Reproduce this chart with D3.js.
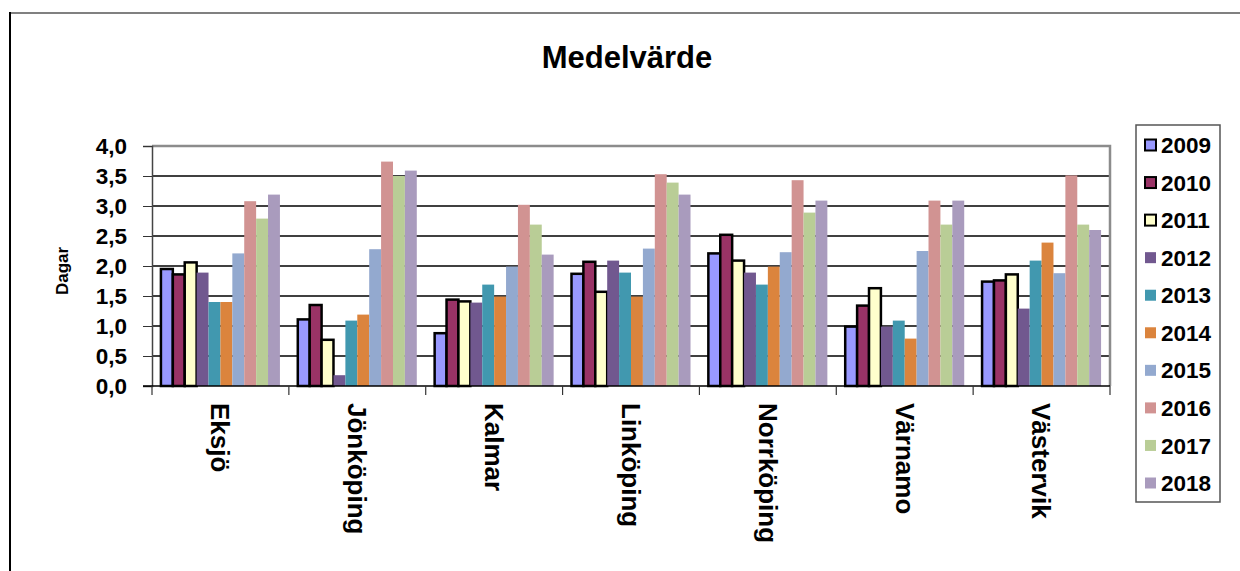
<!DOCTYPE html>
<html lang="sv">
<head>
    <meta charset="UTF-8">
    <script src="https://d3js.org/d3.v7.min.js"></script>
    <style>
        body {
            margin: 0;
            font-family: "Liberation Sans", Arial, sans-serif;
            background: #fff;
        }
        .tick-label {
            font-size: 22.5px;
            font-weight: bold;
            fill: #000;
        }
    </style>
</head>
<body>
    <svg id="chart"></svg>

    <script>
        const kommuner = ["Eksjö", "Jönköping", "Kalmar", "Linköping", "Norrköping", "Värnamo", "Västervik"];
        const years = ["2009", "2010", "2011", "2012", "2013", "2014", "2015", "2016", "2017", "2018"];
        const yTicks = [0, 0.5, 1, 1.5, 2, 2.5, 3, 3.5, 4];

        // medelvärde (dagar) per år, en rad per kommun
        const eksjo      = [1.95, 1.86, 2.06, 1.89, 1.40, 1.40, 2.21, 3.08, 2.79, 3.19];
        const jonkoping  = [1.11, 1.35, 0.77, 0.18, 1.09, 1.19, 2.28, 3.74, 3.50, 3.59];
        const kalmar     = [0.88, 1.44, 1.41, 1.39, 1.69, 1.49, 1.99, 3.02, 2.69, 2.19];
        const linkoping  = [1.87, 2.07, 1.57, 2.09, 1.89, 1.49, 2.29, 3.53, 3.39, 3.19];
        const norrkoping = [2.21, 2.52, 2.09, 1.89, 1.69, 1.99, 2.23, 3.43, 2.89, 3.09];
        const varnamo    = [0.99, 1.34, 1.63, 0.99, 1.09, 0.79, 2.25, 3.09, 2.69, 3.09];
        const vastervik  = [1.74, 1.76, 1.86, 1.29, 2.09, 2.39, 1.88, 3.51, 2.69, 2.60];

        const values = [eksjo, jonkoping, kalmar, linkoping, norrkoping, varnamo, vastervik];

        const colors = ["#9999FF", "#993366", "#FFFFCC", "#71588F", "#4198AF", "#DB843D",
                        "#93A9CF", "#D19392", "#B9CD96", "#A99BBD"];
        const outlined = ["2009", "2010", "2011"];

        const W = 1240, H = 571;
        const plot = {left: 152, right: 1110, top: 146, bottom: 386};

        const svg = d3.select("#chart")
            .attr("width", W)
            .attr("height", H);

        // outer frame (only top and left are inside the window)
        svg.append("line")
            .attr("x1", 9).attr("x2", W).attr("y1", 13).attr("y2", 13)
            .attr("stroke", "#808080").attr("stroke-width", 2);
        svg.append("line")
            .attr("x1", 10).attr("x2", 10).attr("y1", 12).attr("y2", H)
            .attr("stroke", "#000").attr("stroke-width", 2);

        svg.append("text")
            .attr("x", 627)
            .attr("y", 68)
            .attr("text-anchor", "middle")
            .style("font-size", "31px")
            .style("font-weight", "bold")
            .text("Medelvärde");

        const x0 = d3.scaleBand()
            .domain(kommuner)
            .range([plot.left, plot.right])
            .padding(0);

        const x1 = d3.scaleBand()
            .domain(years)
            .range([0, x0.bandwidth()])
            .paddingInner(0)
            .paddingOuter(0.75);

        const y = d3.scaleLinear()
            .domain([0, 4])
            .range([plot.bottom, plot.top]);

        // gridlines
        svg.append("g")
            .selectAll("line")
            .data(yTicks.filter(d => d > 0 && d < 4))
            .enter()
            .append("line")
            .attr("x1", plot.left).attr("x2", plot.right)
            .attr("y1", d => y(d)).attr("y2", d => y(d))
            .attr("stroke", "#000").attr("stroke-width", 1.3);

        // plot area top/right border
        svg.append("path")
            .attr("d", `M${plot.left},${plot.top}H${plot.right}V${plot.bottom}`)
            .attr("fill", "none")
            .attr("stroke", "#8c8c8c")
            .attr("stroke-width", 2.5);

        // bars
        const groups = svg.append("g")
            .selectAll("g")
            .data(kommuner)
            .enter()
            .append("g")
            .attr("transform", d => `translate(${x0(d)},0)`);

        groups.selectAll("rect")
            .data((k, i) => years.map((yr, j) => ({year: yr, value: values[i][j], color: colors[j]})))
            .enter()
            .append("rect")
            .attr("x", d => x1(d.year))
            .attr("y", d => y(d.value))
            .attr("width", x1.bandwidth())
            .attr("height", d => y(0) - y(d.value))
            .attr("fill", d => d.color)
            .attr("stroke", d => outlined.includes(d.year) ? "#000" : "none")
            .attr("stroke-width", 2.5);

        // y axis
        const yAxis = svg.append("g")
            .attr("transform", `translate(${plot.left},0)`)
            .call(d3.axisLeft(y).tickValues(yTicks).tickSize(9).tickPadding(16)
                .tickFormat(d => d3.format(".1f")(d).replace(".", ",")));
        yAxis.select(".domain").attr("stroke", "#444").attr("stroke-width", 1.5);
        yAxis.selectAll(".tick line").attr("stroke", "#333");
        yAxis.selectAll(".tick text").attr("class", "tick-label").attr("font-family", null).attr("font-size", null);

        // x axis
        const xAxis = svg.append("g")
            .attr("transform", `translate(0,${plot.bottom})`);
        xAxis.append("line")
            .attr("x1", plot.left - 9).attr("x2", plot.right)
            .attr("stroke", "#000").attr("stroke-width", 1.5);
        xAxis.selectAll(".sep")
            .data(kommuner.concat(["end"]))
            .enter()
            .append("line")
            .attr("x1", (d, i) => i < kommuner.length ? x0(d) : plot.right)
            .attr("x2", (d, i) => i < kommuner.length ? x0(d) : plot.right)
            .attr("y1", 0).attr("y2", 9)
            .attr("stroke", "#333").attr("stroke-width", 1.2);
        xAxis.selectAll(".cat")
            .data(kommuner)
            .enter()
            .append("text")
            .attr("transform", d => `translate(${x0(d) + x0.bandwidth() / 2},17) rotate(90)`)
            .attr("dy", "0.35em")
            .style("font-size", "26px")
            .style("font-weight", "bold")
            .text(d => d);

        svg.append("text")
            .attr("transform", "translate(62,271) rotate(-90)")
            .attr("text-anchor", "middle")
            .attr("dy", "0.35em")
            .style("font-size", "17px")
            .style("font-weight", "bold")
            .text("Dagar");

        // legend
        const legend = svg.append("g");
        legend.append("rect")
            .attr("x", 1136).attr("y", 125)
            .attr("width", 84).attr("height", 377)
            .attr("fill", "#fff")
            .attr("stroke", "#555").attr("stroke-width", 1.5);

        const ly = d3.scalePoint().domain(years).range([145, 483]);
        const items = legend.selectAll(".item")
            .data(years)
            .enter()
            .append("g")
            .attr("transform", d => `translate(1145,${ly(d)})`);
        items.append("rect")
            .attr("x", 0).attr("y", -5.5)
            .attr("width", 11).attr("height", 11)
            .attr("fill", (d, i) => colors[i])
            .attr("stroke", d => outlined.includes(d) ? "#000" : "none")
            .attr("stroke-width", 2);
        items.append("text")
            .attr("x", 16)
            .attr("dy", "0.36em")
            .attr("class", "tick-label")
            .text(d => d);
    </script>
</body>
</html>
